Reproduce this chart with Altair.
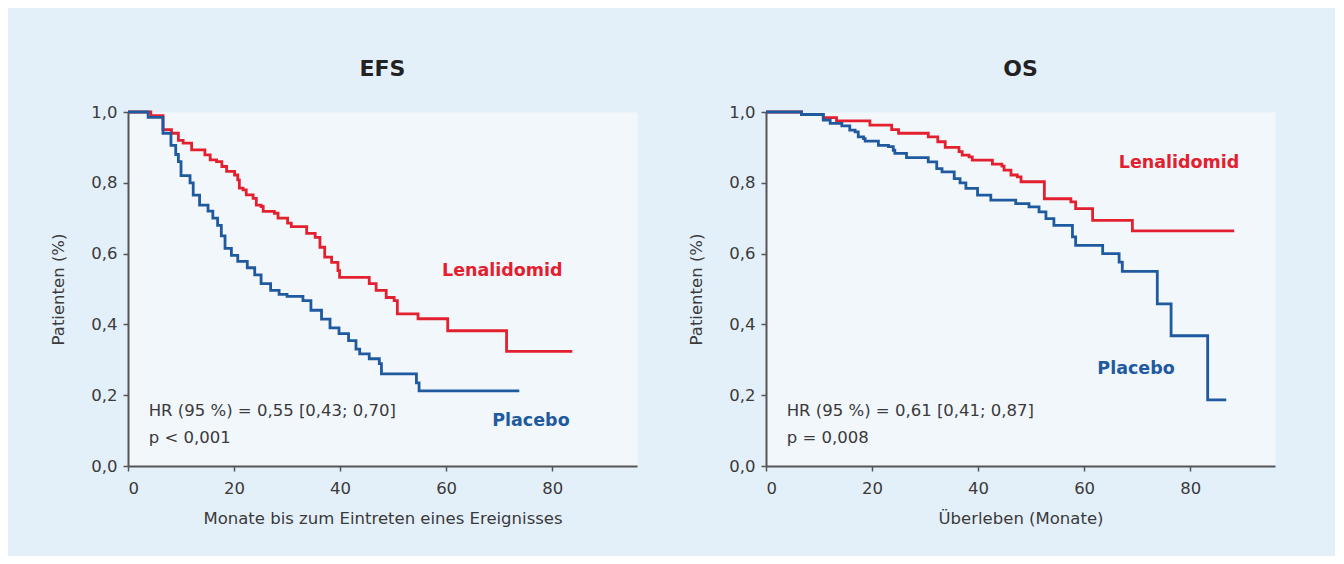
import altair as alt
import pandas as pd

# ---------------- data ----------------
# EFS, Kaplan-Meier step points (month, survival fraction)
efs_len_t = [0, 4.3, 6.6, 8.2, 9.5, 10.4, 12.0, 14.5, 15.5, 16.7, 17.7, 18.6, 20.1, 20.7, 21.0,
             21.7, 22.3, 23.6, 24.2, 25.1, 25.5, 27.6, 28.3, 30.1, 30.8, 33.7, 35.3, 36.2, 37.1,
             38.4, 39.6, 39.9, 45.5, 46.8, 48.7, 50.2, 50.8, 54.7, 60.3, 71.4, 83.8]
efs_len_s = [1.0, 0.99, 0.95, 0.94, 0.92, 0.912, 0.893, 0.879, 0.865, 0.86, 0.846, 0.832, 0.822, 0.808, 0.785,
             0.78, 0.766, 0.756, 0.737, 0.733, 0.719, 0.714, 0.70, 0.686, 0.676, 0.657, 0.646, 0.618, 0.59,
             0.575, 0.552, 0.533, 0.515, 0.496, 0.476, 0.467, 0.43, 0.416, 0.382, 0.324, 0.324]

efs_pla_t = [0, 3.8, 6.6, 8.1, 9.0, 9.5, 10.0, 11.7, 12.3, 13.5, 15.1, 16.0, 16.9, 17.6, 18.3, 19.5,
             20.7, 22.5, 23.9, 25.1, 26.9, 28.5, 30.0, 33.0, 34.5, 36.5, 38.1, 39.8, 41.6, 43.0,
             43.7, 45.5, 47.4, 47.8, 54.4, 54.9, 73.8]
efs_pla_s = [1.0, 0.985, 0.94, 0.906, 0.88, 0.86, 0.82, 0.80, 0.765, 0.737, 0.72, 0.70, 0.68, 0.65, 0.615, 0.595,
             0.578, 0.56, 0.54, 0.515, 0.496, 0.485, 0.479, 0.467, 0.44, 0.415, 0.39, 0.374, 0.354, 0.33,
             0.317, 0.303, 0.289, 0.26, 0.235, 0.212, 0.212]

# OS
os_len_t = [0, 6.7, 10.8, 13.3, 19.6, 23.7, 25.0, 30.6, 32.4, 33.8, 36.4, 37.0, 38.3, 38.9, 42.7,
            44.5, 44.9, 46.2, 47.4, 48.1, 52.5, 57.5, 58.4, 61.6, 69.1, 88.3]
os_len_s = [1.0, 0.993, 0.984, 0.975, 0.963, 0.95, 0.94, 0.93, 0.916, 0.9, 0.888, 0.878, 0.873, 0.864, 0.853,
            0.847, 0.836, 0.822, 0.817, 0.803, 0.755, 0.746, 0.727, 0.694, 0.664, 0.664]

os_pla_t = [0, 6.7, 10.8, 12.1, 14.3, 15.8, 16.8, 17.4, 18.4, 18.7, 21.2, 23.1, 24.0, 24.3, 26.5, 30.6,
            32.2, 33.2, 35.5, 36.6, 37.7, 39.9, 42.4, 47.1, 49.6, 51.5, 52.8, 54.3, 57.8, 58.4, 63.5,
            66.6, 67.2, 73.8, 76.4, 83.3, 86.8]
os_pla_s = [1.0, 0.993, 0.977, 0.968, 0.961, 0.949, 0.944, 0.93, 0.925, 0.918, 0.906, 0.902, 0.892, 0.883, 0.871, 0.859,
            0.84, 0.831, 0.812, 0.80, 0.784, 0.765, 0.751, 0.741, 0.732, 0.718, 0.699, 0.68, 0.647, 0.623, 0.60,
            0.576, 0.55, 0.458, 0.368, 0.187, 0.187]

series_names = ["Lenalidomid", "Placebo"]
series_colors = ["#e3202e", "#1f5a9e"]

x_ticks = [0, 20, 40, 60, 80]
y_ticks = [0.0, 0.2, 0.4, 0.6, 0.8, 1.0]

efs_title = "EFS"
os_title = "OS"
efs_xlabel = "Monate bis zum Eintreten eines Ereignisses"
os_xlabel = "Überleben (Monate)"
ylabel = "Patienten (%)"

efs_stats = ["HR (95 %) = 0,55 [0,43; 0,70]", "p < 0,001"]
os_stats = ["HR (95 %) = 0,61 [0,41; 0,87]", "p = 0,008"]

# label anchor positions (data coordinates)
efs_label_pos = {"Lenalidomid": (70.6, 0.552), "Placebo": (76.0, 0.127)}
os_label_pos = {"Lenalidomid": (77.9, 0.855), "Placebo": (69.8, 0.275)}
stats_x = 3.9
stats_y = [0.156, 0.079]

TEXT = "#3a3a3a"
FONT = "DejaVu Sans"


def curves_df(len_t, len_s, pla_t, pla_s):
    rows = [{"t": t, "s": s, "g": "Lenalidomid"} for t, s in zip(len_t, len_s)]
    rows += [{"t": t, "s": s, "g": "Placebo"} for t, s in zip(pla_t, pla_s)]
    return pd.DataFrame(rows)


def panel(title, xlabel, len_t, len_s, pla_t, pla_s, label_pos, stats):
    x_scale = alt.Scale(domain=[0, 96], nice=False, zero=True)
    y_scale = alt.Scale(domain=[0, 1], nice=False)
    x_axis = alt.Axis(values=x_ticks, title=xlabel, format="d")
    y_axis = alt.Axis(values=y_ticks, title=ylabel,
                      labelExpr="replace(format(datum.value, '.1f'), '.', ',')")

    lines = alt.Chart(curves_df(len_t, len_s, pla_t, pla_s)).mark_line(
        interpolate="step-after", strokeWidth=2.8
    ).encode(
        x=alt.X("t:Q", scale=x_scale, axis=x_axis),
        y=alt.Y("s:Q", scale=y_scale, axis=y_axis),
        color=alt.Color("g:N", scale=alt.Scale(domain=series_names, range=series_colors), legend=None),
        detail="g:N",
    )

    lab_df = pd.DataFrame([
        {"t": label_pos[n][0], "s": label_pos[n][1], "txt": n, "g": n} for n in series_names
    ])
    labels = alt.Chart(lab_df).mark_text(
        font=FONT, fontSize=17.5, fontWeight="bold", align="center", baseline="middle"
    ).encode(
        x=alt.X("t:Q", scale=x_scale),
        y=alt.Y("s:Q", scale=y_scale),
        text="txt:N",
        color=alt.Color("g:N", scale=alt.Scale(domain=series_names, range=series_colors), legend=None),
    )

    st_df = pd.DataFrame([{"t": stats_x, "s": y, "txt": s} for s, y in zip(stats, stats_y)])
    st = alt.Chart(st_df).mark_text(
        font=FONT, fontSize=16.5, align="left", baseline="middle", color=TEXT
    ).encode(
        x=alt.X("t:Q", scale=x_scale),
        y=alt.Y("s:Q", scale=y_scale),
        text="txt:N",
    )

    return alt.layer(lines, labels, st).properties(
        width=509, height=354,
        title=alt.TitleParams(title, fontSize=22, fontWeight="bold", font=FONT,
                              color="#222222", offset=23, anchor="middle"),
    )


left = panel(efs_title, efs_xlabel, efs_len_t, efs_len_s, efs_pla_t, efs_pla_s, efs_label_pos, efs_stats)
right = panel(os_title, os_xlabel, os_len_t, os_len_s, os_pla_t, os_pla_s, os_label_pos, os_stats)

chart = alt.hconcat(left, right, spacing=50).properties(
    background="#e4f0f9",
    padding={"left": 42, "top": 49, "right": 59, "bottom": 28},
).configure_view(
    fill="#f2f7fc", stroke="transparent"
).configure_axis(
    grid=False,
    domainColor="#555555", domainWidth=2,
    tickColor="#555555", tickWidth=1.5, tickSize=5,
    labelColor=TEXT, labelFontSize=16.5, labelFont=FONT,
    titleColor=TEXT, titleFontSize=16.5, titleFont=FONT, titleFontWeight="normal",
).configure_axisX(
    labelPadding=9, titlePadding=14,
).configure_axisY(
    labelPadding=6, titlePadding=24,
)

chart.save("out.html", embed_options={"renderer": "svg", "actions": False})
